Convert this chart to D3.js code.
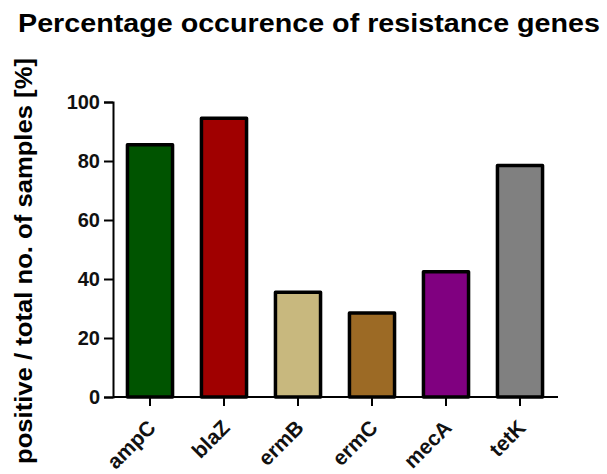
<!DOCTYPE html>
<html><head><meta charset="utf-8">
<script src="https://cdn.jsdelivr.net/npm/d3@7"></script>
<style>body{margin:0;background:#fff}svg{display:block}</style>
</head><body>
<svg id="c" width="607" height="474"></svg>
<script>
const genes = ["ampC","blaZ","ermB","ermC","mecA","tetK"];
const percentages = [86, 95, 36, 29, 43, 79];
const colors = ["#005400","#a00000","#c8b87e","#9c6a25","#800080","#808080"];
const yTicks = [0,20,40,60,80,100];

const svg = d3.select("#c");
const font = "Liberation Sans, Arial, sans-serif";
const x = d3.scaleBand().domain(genes).range([113,557]).paddingInner(0.35).paddingOuter(0.175);
const y = d3.scaleLinear().domain([0,100]).range([397,102]);

svg.append("text").attr("x",309).attr("y",32).attr("text-anchor","middle")
  .attr("font-family",font).attr("font-weight","bold").attr("font-size",25)
  .attr("textLength",582).attr("lengthAdjust","spacingAndGlyphs")
  .text("Percentage occurence of resistance genes");

svg.append("text").attr("transform","translate(32,261) rotate(-90)").attr("text-anchor","middle")
  .attr("font-family",font).attr("font-weight","bold").attr("font-size",24)
  .attr("textLength",406).attr("lengthAdjust","spacingAndGlyphs")
  .text("positive / total no. of samples [%]");

svg.selectAll("rect.bar").data(genes).enter().append("rect").attr("class","bar")
  .attr("x",d=>x(d)+1.5).attr("width",x.bandwidth()-3)
  .attr("y",(d,i)=>y(percentages[i])+1.5).attr("height",(d,i)=>y(0)-y(percentages[i])-1.5)
  .attr("fill",(d,i)=>colors[i]).attr("stroke","#000").attr("stroke-width",3.5)
  .attr("stroke-linejoin","round");

const ya = svg.append("g").attr("transform","translate(113,0)")
  .call(d3.axisLeft(y).tickValues(yTicks).tickSize(9).tickPadding(4));
ya.select(".domain").attr("stroke-width",2);
ya.selectAll(".tick line").attr("stroke-width",2);
ya.selectAll("text").attr("font-family",font).attr("font-weight","bold").attr("font-size",20).attr("fill","#111");

const xa = svg.append("g").attr("transform","translate(0,397)")
  .call(d3.axisBottom(x).tickSize(9).tickSizeOuter(0));
xa.select(".domain").attr("stroke-width",2).attr("d","M113,0H558");
xa.selectAll(".tick line").attr("stroke-width",2);
xa.selectAll("text").attr("font-family",font).attr("font-weight","bold").attr("font-size",21).attr("fill","#111")
  .attr("text-anchor","end").attr("dy",null).attr("y",null)
  .attr("transform","translate(7,32) rotate(-45)");
</script>
</body></html>
